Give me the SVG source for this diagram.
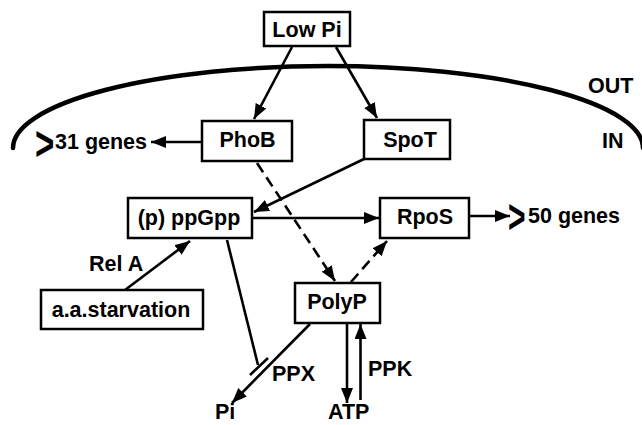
<svg xmlns="http://www.w3.org/2000/svg" width="642" height="425" viewBox="0 0 642 425">
<style>
.box{fill:#fff;stroke:#000;stroke-width:2.5}
.t{font-family:"Liberation Sans",Arial,sans-serif;font-weight:bold;font-size:21.5px;fill:#000}
.c{text-anchor:middle}
.chev{font-family:"Liberation Sans",Arial,sans-serif;font-weight:bold;font-size:30px;fill:#000}
.ln{fill:none;stroke:#000;stroke-width:2.6}
.dash{stroke-dasharray:11 6}
</style>
<defs>
<marker id="ah" markerUnits="userSpaceOnUse" markerWidth="16" markerHeight="14" refX="15" refY="6" orient="auto">
<path d="M0,0 L15,6 L0,12 Z" fill="#000"/>
</marker>
</defs>
<rect width="642" height="425" fill="#fff"/>
<path d="M13,148 A315,82 0 0 1 643,148" fill="none" stroke="#000" stroke-width="4.5" stroke-linecap="round"/>
<text class="t" x="588" y="93">OUT</text>
<text class="t" x="602" y="148">IN</text>
<g id="connectors">
<line class="ln" x1="292" y1="47" x2="254" y2="119" marker-end="url(#ah)"/>
<line class="ln" x1="336" y1="47" x2="377" y2="118" marker-end="url(#ah)"/>
<line class="ln" x1="202" y1="142" x2="151" y2="142" marker-end="url(#ah)"/>
<line class="ln" x1="364" y1="159" x2="254" y2="212" marker-end="url(#ah)"/>
<line class="ln" x1="252" y1="218" x2="379" y2="218" marker-end="url(#ah)"/>
<line class="ln" x1="469" y1="216" x2="510" y2="216" marker-end="url(#ah)"/>
<line class="ln" x1="125" y1="290" x2="190" y2="241" marker-end="url(#ah)"/>
<line class="ln dash" x1="257" y1="163" x2="335" y2="281" marker-end="url(#ah)"/>
<line class="ln dash" x1="351" y1="282" x2="387" y2="241" marker-end="url(#ah)"/>
<line class="ln" x1="227" y1="240" x2="258" y2="365"/>
<line class="ln" x1="250" y1="375" x2="268" y2="358"/>
<line class="ln" x1="310" y1="324" x2="232" y2="403" marker-end="url(#ah)"/>
<line class="ln" x1="347" y1="324" x2="347" y2="403" marker-end="url(#ah)"/>
<line class="ln" x1="360.5" y1="400" x2="360.5" y2="324" marker-end="url(#ah)"/>
</g>
<g id="lowpi"><rect class="box" x="264" y="12" width="86" height="34"/><text class="t c" x="307" y="37">Low Pi</text></g>
<g id="phob"><rect class="box" x="202" y="121" width="90" height="40"/><text class="t c" x="247.5" y="147">PhoB</text></g>
<g id="spot"><rect class="box" x="364" y="120" width="86" height="39"/><text class="t c" x="410" y="147">SpoT</text></g>
<g id="ppgpp"><rect class="box" x="128" y="198" width="124" height="40"/><text class="t c" x="189" y="225">(p) ppGpp</text></g>
<g id="rpos"><rect class="box" x="380" y="198" width="89" height="40"/><text class="t c" x="425" y="224">RpoS</text></g>
<g id="starv"><rect class="box" x="41" y="290" width="162" height="39"/><text class="t c" x="121" y="317">a.a.starvation</text></g>
<g id="polyp"><rect class="box" x="295" y="283" width="85" height="40"/><text class="t c" x="337" y="308.5">PolyP</text></g>
<g id="genes31"><text class="chev" transform="translate(35,160) scale(1.1,1.6)">&gt;</text><text class="t" x="55" y="148.5">31 genes</text></g>
<g id="genes50"><text class="chev" transform="translate(508,233) scale(1,1.6)">&gt;</text><text class="t" x="528" y="223">50 genes</text></g>
<g id="labels">
<text class="t" x="89" y="271">Rel A</text>
<text class="t" x="272" y="381">PPX</text>
<text class="t" x="368" y="376">PPK</text>
<text class="t" x="215" y="419">Pi</text>
<text class="t" x="328" y="419">ATP</text>
</g>
</svg>
